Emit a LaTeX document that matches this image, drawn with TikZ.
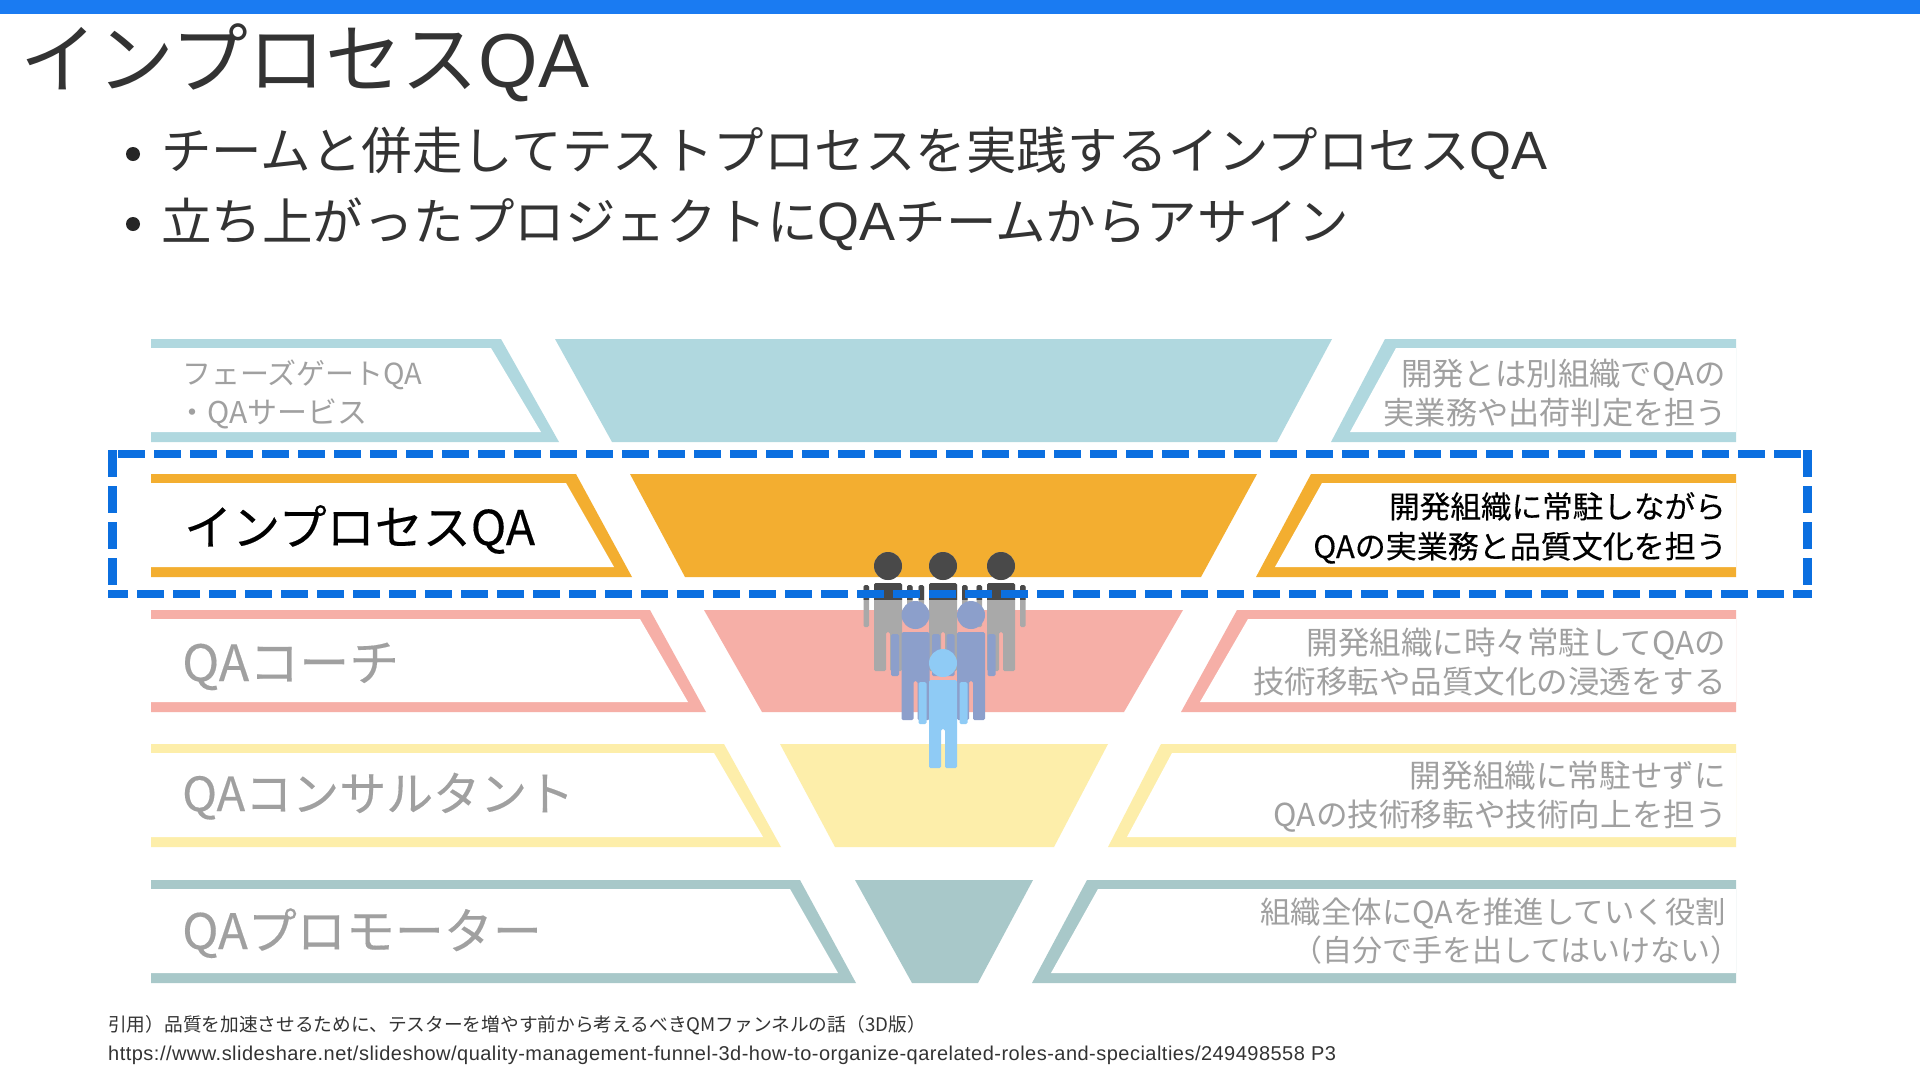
\documentclass[tikz,border=0pt]{standalone}
\usepackage{fontspec}
\setmainfont{Noto Sans CJK JP}
\newfontfamily\thick[FakeBold=0.3]{Noto Sans CJK JP}
\newfontfamily\latinqa{Liberation Sans}
\newfontfamily\urlfont[LetterSpace=2.4]{Liberation Sans}
\definecolor{topbar}{HTML}{1A7BF2}
\definecolor{dashblue}{HTML}{0B6FE0}
\definecolor{inkc}{HTML}{333333}
\definecolor{fadetxt}{HTML}{A0A0A0}
\definecolor{cA}{HTML}{B0D8DF}
\definecolor{cB}{HTML}{F3AE30}
\definecolor{cC}{HTML}{F6AFA7}
\definecolor{cD}{HTML}{FDEEAA}
\definecolor{cE}{HTML}{A8C8C9}
\definecolor{pgray}{HTML}{A9A9A9}
\definecolor{pdark}{HTML}{494949}
\definecolor{pmid}{HTML}{8C9FCB}
\definecolor{pfront}{HTML}{8FCBF5}
\newcommand{\fs}[1]{\fontsize{#1}{#1}\selectfont}
\tikzset{
  lbl/.style={inner sep=0pt,anchor=base west,text=inkc},
  lblr/.style={inner sep=0pt,anchor=base east,text=fadetxt},
  lbll/.style={inner sep=0pt,anchor=base west,text=fadetxt},
  holebox/.style={fill=white},
  dashline/.style={dashblue,line width=8.5pt,line cap=butt},
}
\newcommand{\leftband}[5]{%
  \fill[#1] (151,#2) -- (#4,#2) -- (#5,#3) -- (151,#3) -- cycle;
  \fill[holebox] (151,#2+9) -- (#4-10,#2+9) -- (#5-18,#3-10) -- (151,#3-10) -- cycle;}
\newcommand{\rightband}[5]{%
  \fill[#1] (1736,#2) -- (#4,#2) -- (#5,#3) -- (1736,#3) -- cycle;
  \fill[holebox] (1736,#2+9) -- (#4+11,#2+9) -- (#5+19,#3-10) -- (1736,#3-10) -- cycle;}
% person: colour, centre x, head centre y, arm inner offset
\newcommand{\person}[4]{%
  \fill[#1] (#2,#3) circle (14);
  \fill[#1,rounded corners=1.5] (#2-14,#3+17) -- (#2+14,#3+17) -- (#2+14,#3+105) -- (#2+2,#3+105) -- (#2+2,#3+66) -- (#2-2,#3+66) -- (#2-2,#3+105) -- (#2-14,#3+105) -- cycle;
  \fill[#1,rounded corners=1.5] (#2-24.5,#3+19) rectangle (#2-#4,#3+61);
  \fill[#1,rounded corners=1.5] (#2+#4,#3+19) rectangle (#2+24.5,#3+61);}
\begin{document}
\begin{tikzpicture}[x=1pt,y=-1pt]
\useasboundingbox (0,0) rectangle (1920,1080);
\fill[white] (0,0) rectangle (1920,1080);
\fill[topbar] (0,0) rectangle (1920,14);
\node[lbl,font=\fs{76.8}] (title) at (20,87) {インプロセス{\latinqa\fs{76.5}QA}};
\fill[black!85] (133,154) circle (7);
\fill[black!85] (133,224) circle (7);
\node[lbl,font=\fs{50.5}] (b1) at (161,169) {チームと併走してテストプロセスを実践するインプロセス{\latinqa\fs{54}QA}};
\node[lbl,font=\fs{50.5}] (b2) at (161,240) {立ち上がったプロジェクトに{\latinqa\fs{54}QA}チームからアサイン};

% funnel
\fill[cA] (555,339) -- (1332,339) -- (1277,442) -- (612,442) -- cycle;
\fill[cB] (630,474) -- (1257,474) -- (1201,577) -- (685,577) -- cycle;
\fill[cC] (704,610) -- (1183,610) -- (1124,712) -- (762,712) -- cycle;
\fill[cD] (780,744) -- (1108,744) -- (1054,847) -- (835,847) -- cycle;
\fill[cE] (855,880) -- (1033,880) -- (978,983) -- (912,983) -- cycle;

% side bands
\leftband{cA}{339}{442}{501}{559}
\leftband{cB}{474}{577}{576}{632}
\leftband{cC}{610}{712}{650}{706}
\leftband{cD}{744}{847}{724}{781}
\leftband{cE}{880}{983}{800}{856}
\rightband{cA}{339}{442}{1385}{1331}
\rightband{cB}{474}{577}{1311}{1256}
\rightband{cC}{610}{712}{1237}{1181}
\rightband{cD}{744}{847}{1161}{1108}
\rightband{cE}{880}{983}{1087}{1032}

% left labels
\node[lbll,font=\fs{29}] (l1a) at (182,384) {フェーズゲートQA};
\node[lbll,font=\fs{30}] (l1b) at (177,423) {・QAサービス};
\node[lbl,font=\thick\fs{48},text=black] (l2) at (184,545) {インプロセスQA};
\node[lbll,font=\thick\fs{50}] (l3) at (182,681) {QAコーチ};
\node[lbll,font=\thick\fs{47}] (l4) at (182,811) {QAコンサルタント};
\node[lbll,font=\thick\fs{49}] (l5) at (182,949) {QAプロモーター};

% right labels
\node[lblr,font=\fs{31.4}] (r1a) at (1726,385) {開発とは別組織でQAの};
\node[lblr,font=\fs{31.2}] (r1b) at (1727,424) {実業務や出荷判定を担う};
\node[lblr,font=\thick\fs{30.6},text=black] (r2a) at (1726,518) {開発組織に常駐しながら};
\node[lblr,font=\thick\fs{31},text=black] (r2b) at (1727,558) {QAの実業務と品質文化を担う};
\node[lblr,font=\fs{31.5}] (r3a) at (1726,654) {開発組織に時々常駐してQAの};
\node[lblr,font=\fs{31.5}] (r3b) at (1726,693) {技術移転や品質文化の浸透をする};
\node[lblr,font=\fs{31.6}] (r4a) at (1726,787) {開発組織に常駐せずに};
\node[lblr,font=\fs{31.6}] (r4b) at (1727,826) {QAの技術移転や技術向上を担う};
\node[lblr,font=\fs{30.4}] (r5a) at (1726,923) {組織全体にQAを推進していく役割};
\node[lblr,font=\fs{30}] (r5b) at (1741,961) {（自分で手を出してはいけない）};

% people
\person{pgray}{888}{566}{19}
\person{pgray}{943}{566}{19}
\person{pgray}{1001}{566}{19}
\begin{scope}
\clip (860,540) rectangle (1030,599);
\person{pdark}{888}{566}{19}
\person{pdark}{943}{566}{19}
\person{pdark}{1001}{566}{19}
\end{scope}
\person{pmid}{915.5}{615}{16.5}
\person{pmid}{971}{615}{16.5}
\person{pfront}{943}{663}{16.5}

% dashed highlight
\draw[dashline,dash pattern=on 27pt off 9pt] (118,454) -- (1803,454);
\draw[dashline,dash pattern=on 26.5pt off 9.5pt] (112.5,450) -- (112.5,585);
\draw[dashline,dash pattern=on 27pt off 9pt,dash phase=7pt] (108,594) -- (1812,594);
\draw[dashline,dash pattern=on 26.5pt off 9.5pt] (1807.5,450) -- (1807.5,585);

% citation
\node[lbl,font=\fs{18.7}] (c1) at (108,1031) {引用）品質を加速させるために、テスターを増やす前から考えるべきQMファンネルの話（3D版）};
\node[lbl,font=\urlfont\fs{20}] (c2) at (108,1060) {https://www.slideshare.net/slideshow/quality-management-funnel-3d-how-to-organize-qarelated-roles-and-specialties/249498558 P3};
\end{tikzpicture}
\end{document}
